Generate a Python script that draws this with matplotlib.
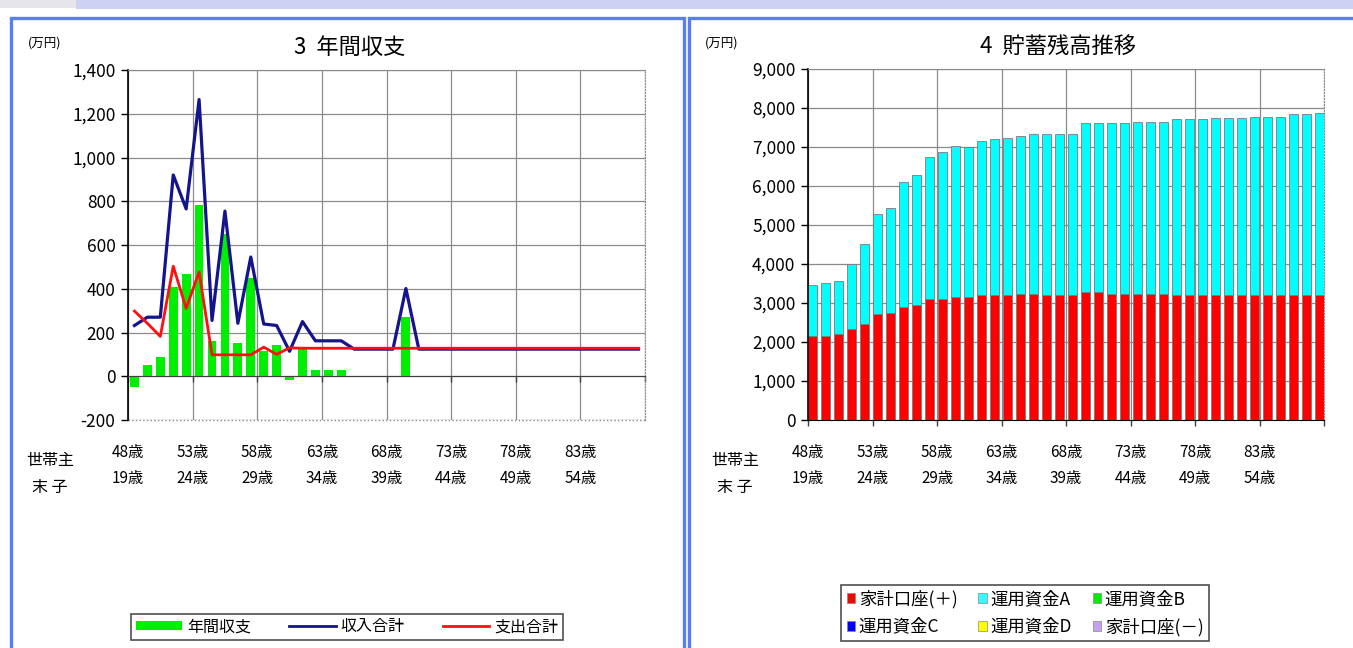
import matplotlib.pyplot as plt
from matplotlib.patches import Rectangle, Patch
from matplotlib.lines import Line2D
from matplotlib.ticker import FixedLocator, FuncFormatter, NullFormatter

plt.rcParams['font.family'] = ['Noto Sans CJK JP', 'DejaVu Sans']

# one entry per year, household head aged 48..87
years = list(range(48, 88))

# 3 年間収支 (万円)
annual_balance = [-50, 53, 89, 410, 467, 785, 162, 650, 152, 447,
                  114, 141, -15, 126, 27, 27, 27, -4, -4, -4,
                  -4, 273, -4, -4, -4, -4, -4, -4, -4, -4,
                  -4, -4, -4, -4, -4, -4, -4, -4, -4, -4]
income_total = [232, 270, 270, 920, 765, 1265, 255, 755, 242, 545,
                239, 232, 114, 250, 162, 162, 162, 124, 124, 124,
                124, 401, 124, 124, 124, 124, 124, 124, 124, 124,
                124, 124, 124, 124, 124, 124, 124, 124, 124, 124]
expense_total = [298, 242, 182, 503, 310, 477, 98, 98, 98, 98,
                 133, 100, 130, 128, 128, 128, 128, 128, 128, 128,
                 128, 128, 128, 128, 128, 128, 128, 128, 128, 128,
                 128, 128, 128, 128, 128, 128, 128, 128, 128, 128]

# 4 貯蓄残高推移 (万円)
household_plus = [2154, 2162, 2205, 2325, 2453, 2709, 2752, 2906, 2957, 3111,
                  3111, 3162, 3162, 3205, 3205, 3205, 3231, 3231, 3205, 3205,
                  3205, 3274, 3274, 3231, 3231, 3231, 3231, 3231, 3205, 3205,
                  3205, 3205, 3205, 3205, 3205, 3205, 3205, 3205, 3205, 3205]
fund_a = [1308, 1342, 1367, 1667, 2060, 2565, 2692, 3188, 3317, 3624,
          3752, 3864, 3848, 3949, 3992, 4017, 4051, 4102, 4128, 4128,
          4128, 4349, 4333, 4376, 4376, 4419, 4419, 4419, 4505, 4505,
          4505, 4547, 4547, 4547, 4573, 4573, 4573, 4633, 4633, 4675]

head_labels = ['48歳', '53歳', '58歳', '63歳', '68歳', '73歳', '78歳', '83歳']
child_labels = ['19歳', '24歳', '29歳', '34歳', '39歳', '44歳', '49歳', '54歳']

left_ticks = [-200, 0, 200, 400, 600, 800, 1000, 1200, 1400]
right_ticks = [0, 1000, 2000, 3000, 4000, 5000, 6000, 7000, 8000, 9000]

W, H = 1353, 648
fig = plt.figure(figsize=(W / 100, H / 100), dpi=100)


def box(x0, y0, x1, y1):
    # pixel box (top-left origin) -> figure fraction rect
    return [x0 / W, 1 - y1 / H, (x1 - x0) / W, (y1 - y0) / H]


def prect(x0, y0, x1, y1, **kw):
    l, b, w, h = box(x0, y0, x1, y1)
    fig.add_artist(Rectangle((l, b), w, h, transform=fig.transFigure, **kw))


# window chrome: top strip and the two blue panel frames
prect(0, 0, 76, 8, facecolor='#e6e6ea', edgecolor='none')
prect(76, 0, W, 9, facecolor='#cdd2f4', edgecolor='none')
prect(11, 18, 684, H + 10, facecolor='none', edgecolor='#5a7cf6', lw=2.4)
prect(689, 18, W + 10, H + 10, facecolor='none', edgecolor='#5a7cf6', lw=2.4)

grid_col = '#8a8a8a'


def style_axes(ax, ticks, xmin, xmax):
    ax.set_yticks(ticks)
    ax.set_ylim(ticks[0], ticks[-1])
    ax.set_xlim(xmin, xmax)
    step = (xmax - xmin) / 8
    ax.xaxis.set_major_locator(FixedLocator([xmin + step * k for k in range(9)]))
    ax.xaxis.set_major_formatter(NullFormatter())
    ax.yaxis.set_major_formatter(FuncFormatter(lambda v, p: f'{int(v):,}'))
    ax.grid(True, color=grid_col, lw=0.9)
    ax.set_axisbelow(True)
    ax.tick_params(axis='y', length=5, width=1, labelsize=12.5, pad=4)
    ax.tick_params(axis='x', length=4, width=1, color='#404040')
    ax.spines['left'].set_color('black')
    ax.spines['left'].set_linewidth(1.2)
    ax.spines['top'].set_color(grid_col)
    ax.spines['right'].set_color(grid_col)
    ax.spines['right'].set_linestyle(':')


def age_labels(ax, px_left):
    xt = ax.get_xticks()
    trans = ax.get_xaxis_transform()
    for k in range(8):
        ax.text(xt[k], -0.093, head_labels[k], transform=trans, ha='center',
                va='center', fontsize=11)
        ax.text(xt[k], -0.168, child_labels[k], transform=trans, ha='center',
                va='center', fontsize=11)
    fig.text(px_left / W, 1 - 461 / H, '世帯主', ha='center', va='center', fontsize=11.5)
    fig.text(px_left / W, 1 - 487 / H, '末 子', ha='center', va='center', fontsize=11.5)


# ---- left: 3 年間収支 ----
ax1 = fig.add_axes(box(128, 70, 645, 420))
idx = list(range(len(years)))
style_axes(ax1, left_ticks, -0.5, len(years) - 0.5)
ax1.spines['bottom'].set_position(('data', 0))
ax1.spines['bottom'].set_color('#404040')
ax1.plot([0, 1], [0, 0], transform=ax1.transAxes, ls=':', color=grid_col, lw=1, clip_on=False)
ax1.bar(idx, annual_balance, width=0.68, color='#00ee00', edgecolor='none', zorder=2)
ax1.plot(idx, income_total, color='#14148c', lw=2.3, zorder=3)
ax1.plot(idx, expense_total, color='#ff1010', lw=2.0, zorder=4)
fig.text(350 / W, 1 - 47 / H, '3  年間収支', ha='center', va='center', fontsize=16)
fig.text(28 / W, 1 - 43 / H, '(万円)', ha='left', va='center', fontsize=9)
age_labels(ax1, 50)

h1 = [Patch(facecolor='#00ee00', edgecolor='none'),
      Line2D([], [], color='#14148c', lw=2),
      Line2D([], [], color='#ff1010', lw=2)]
leg1 = fig.legend(h1, ['年間収支', '収入合計', '支出合計'], loc='center',
                  bbox_to_anchor=(347 / W, 1 - 627 / H), ncol=3, fontsize=11.5,
                  frameon=True, fancybox=False, edgecolor='#222222',
                  handlelength=2.9, handleheight=0.5, handletextpad=0.3,
                  columnspacing=2.4, borderpad=0.3, borderaxespad=0)
leg1.get_frame().set_linewidth(1.2)

# ---- right: 4 貯蓄残高推移 ----
ax2 = fig.add_axes(box(808, 69, 1324, 420))
bw = 0.66
style_axes(ax2, right_ticks, -bw / 2, len(years) - 1 + bw / 2)
ax2.spines['bottom'].set_color('black')
ax2.bar(idx, household_plus, width=bw, color='#ff0000', edgecolor='#7a7a7a', lw=0.6, zorder=2)
ax2.bar(idx, fund_a, bottom=household_plus, width=bw, color='#00ffff',
        edgecolor='#7a7a7a', lw=0.6, zorder=2)
fig.text(1058 / W, 1 - 47 / H, '4  貯蓄残高推移', ha='center', va='center', fontsize=16)
fig.text(705 / W, 1 - 43 / H, '(万円)', ha='left', va='center', fontsize=9)
age_labels(ax2, 735)

series_names = ['家計口座(＋)', '運用資金C', '運用資金A', '運用資金D', '運用資金B', '家計口座(－)']
series_colors = ['#ff0000', '#0000ff', '#33ffff', '#ffff00', '#00ee00', '#c8a0f0']
h2 = [Patch(facecolor=c, edgecolor='#888888', lw=0.5) for c in series_colors]
leg2 = fig.legend(h2, series_names, loc='center',
                  bbox_to_anchor=(1025 / W, 1 - 613 / H), ncol=3, fontsize=12.5,
                  frameon=True, fancybox=False, edgecolor='#222222',
                  handlelength=0.5, handleheight=0.5, handletextpad=0.2,
                  columnspacing=1.2, labelspacing=0.55, borderpad=0.3, borderaxespad=0)
leg2.get_frame().set_linewidth(1.2)

fig.savefig('out.png', dpi=100)
